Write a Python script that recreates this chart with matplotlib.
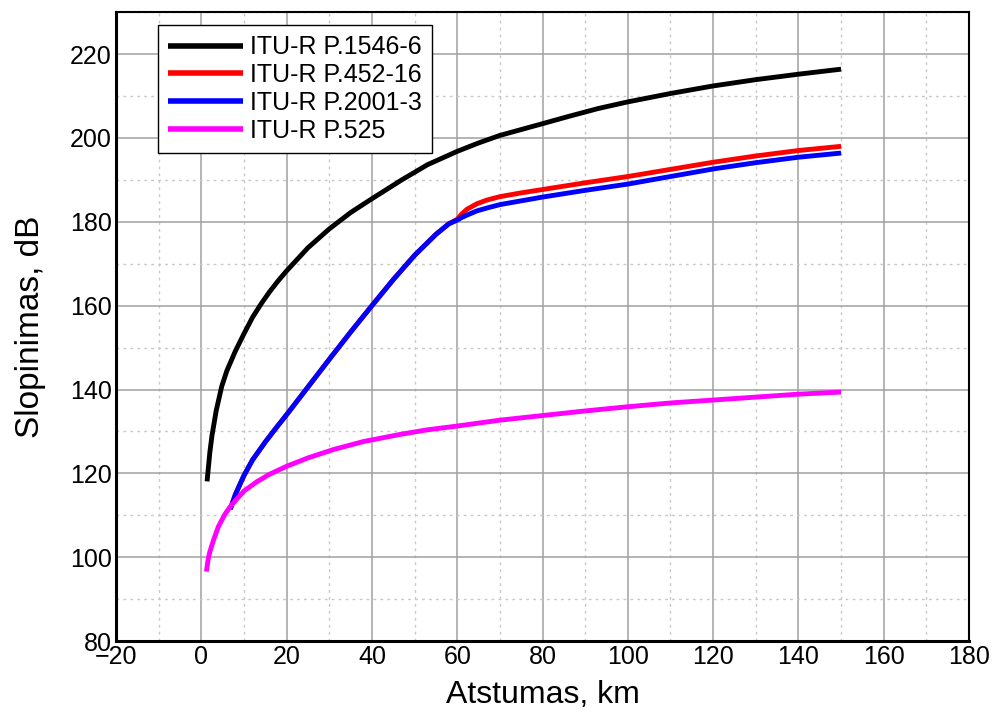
import numpy as np
import matplotlib
matplotlib.use("Agg")
import matplotlib.pyplot as plt
from matplotlib.ticker import MultipleLocator

plt.rcParams['font.family'] = ['Liberation Sans', 'DejaVu Sans']

# ITU-R P.1546-6
d_1546 = [1.35, 2, 2.5, 3.5, 4.8, 6, 8, 10, 12, 14, 16, 18, 20, 25, 30, 35, 40, 47, 53, 60, 65, 70, 75, 80, 86, 93, 100, 110, 120, 130, 140, 150]
L_1546 = [118.1, 125.0, 129.0, 135.0, 140.8, 144.5, 149.2, 153.3, 157.2, 160.4, 163.3, 165.9, 168.3, 173.8, 178.3, 182.2, 185.5, 190.0, 193.6, 196.8, 198.8, 200.6, 202.0, 203.4, 205.1, 207.0, 208.6, 210.6, 212.4, 213.9, 215.2, 216.4]

# ITU-R P.452-16
d_452 = [6.8, 8, 10, 12, 15, 17.5, 20, 25, 30, 35, 40, 45, 50, 55, 58, 60, 61, 62.3, 64.6, 67, 70, 75, 80, 90, 100, 110, 120, 130, 140, 150]
L_452 = [111.5, 115.0, 119.5, 123.2, 127.5, 130.8, 134.0, 140.6, 147.2, 153.7, 160.0, 166.2, 172.0, 177.0, 179.5, 180.6, 181.8, 183.0, 184.3, 185.2, 186.0, 186.9, 187.7, 189.3, 190.8, 192.5, 194.2, 195.7, 197.0, 198.0]

# ITU-R P.2001-3
d_2001 = [6.8, 8, 10, 12, 15, 17.5, 20, 25, 30, 35, 40, 45, 50, 55, 58, 60, 61, 62.3, 64.6, 67, 70, 75, 80, 90, 100, 110, 120, 130, 140, 150]
L_2001 = [111.5, 115.0, 119.5, 123.2, 127.5, 130.8, 134.0, 140.6, 147.2, 153.7, 160.0, 166.2, 172.0, 177.0, 179.5, 180.4, 181.0, 181.6, 182.6, 183.3, 184.1, 185.0, 185.9, 187.5, 189.0, 190.8, 192.6, 194.1, 195.4, 196.4]

# ITU-R P.525
d_525 = [1.2, 1.6, 2.0, 2.9, 4.0, 5.5, 6.8, 8.5, 10, 13, 16, 20, 25, 31, 38, 46.6, 53, 60, 70, 80, 90, 100, 110, 120, 130, 140, 150]
L_525 = [96.6, 99.5, 101.3, 104.2, 107.3, 110.2, 112.1, 114.1, 115.8, 118.0, 119.8, 121.7, 123.7, 125.7, 127.6, 129.3, 130.4, 131.3, 132.7, 133.8, 134.9, 135.9, 136.8, 137.5, 138.2, 138.9, 139.4]

x_ticks = np.arange(-20, 181, 20)
y_ticks = np.arange(80, 221, 20)

fig = plt.figure(figsize=(10, 7.14), dpi=100)
ax = fig.add_axes([0.116, 0.102, 0.853, 0.881])

ax.plot(d_1546, L_1546, color='black', lw=3.5, label='ITU-R P.1546-6', solid_capstyle='butt')
ax.plot(d_452, L_452, color='#ff0000', lw=3.5, label='ITU-R P.452-16', solid_capstyle='butt')
ax.plot(d_2001, L_2001, color='#0000ff', lw=3.5, label='ITU-R P.2001-3', solid_capstyle='butt')
ax.plot(d_525, L_525, color='#ff00ff', lw=3.5, label='ITU-R P.525', solid_capstyle='butt')

ax.set_xlim(-20, 180)
ax.set_ylim(80, 230)
ax.set_xticks(x_ticks)
ax.set_yticks(y_ticks)
ax.xaxis.set_minor_locator(MultipleLocator(10))
ax.yaxis.set_minor_locator(MultipleLocator(10))
ax.grid(which='major', color='#a0a0a0', lw=1.1, ls='-')
ax.grid(which='minor', color='#c8c8c8', lw=1.0, ls=(0, (2, 3)))
ax.set_axisbelow(True)
ax.tick_params(which='both', length=0, labelsize=18, pad=3)

for s in ['left', 'bottom']:
    ax.spines[s].set_linewidth(2.2)
for s in ['top', 'right']:
    ax.spines[s].set_linewidth(1.5)

ax.set_xlabel('Atstumas, km', fontsize=23, labelpad=8)
ax.set_ylabel('Slopinimas, dB', fontsize=24, labelpad=17)

leg = ax.legend(loc='upper left', bbox_to_anchor=(0.049, 0.979), fontsize=18,
                fancybox=False, framealpha=1, edgecolor='black', borderpad=0.4,
                labelspacing=0.15, handlelength=3.0, handletextpad=0.3, borderaxespad=0)
leg.get_frame().set_linewidth(1.0)
for line in leg.get_lines():
    line.set_linewidth(4)

fig.savefig('out.png', dpi=100)
